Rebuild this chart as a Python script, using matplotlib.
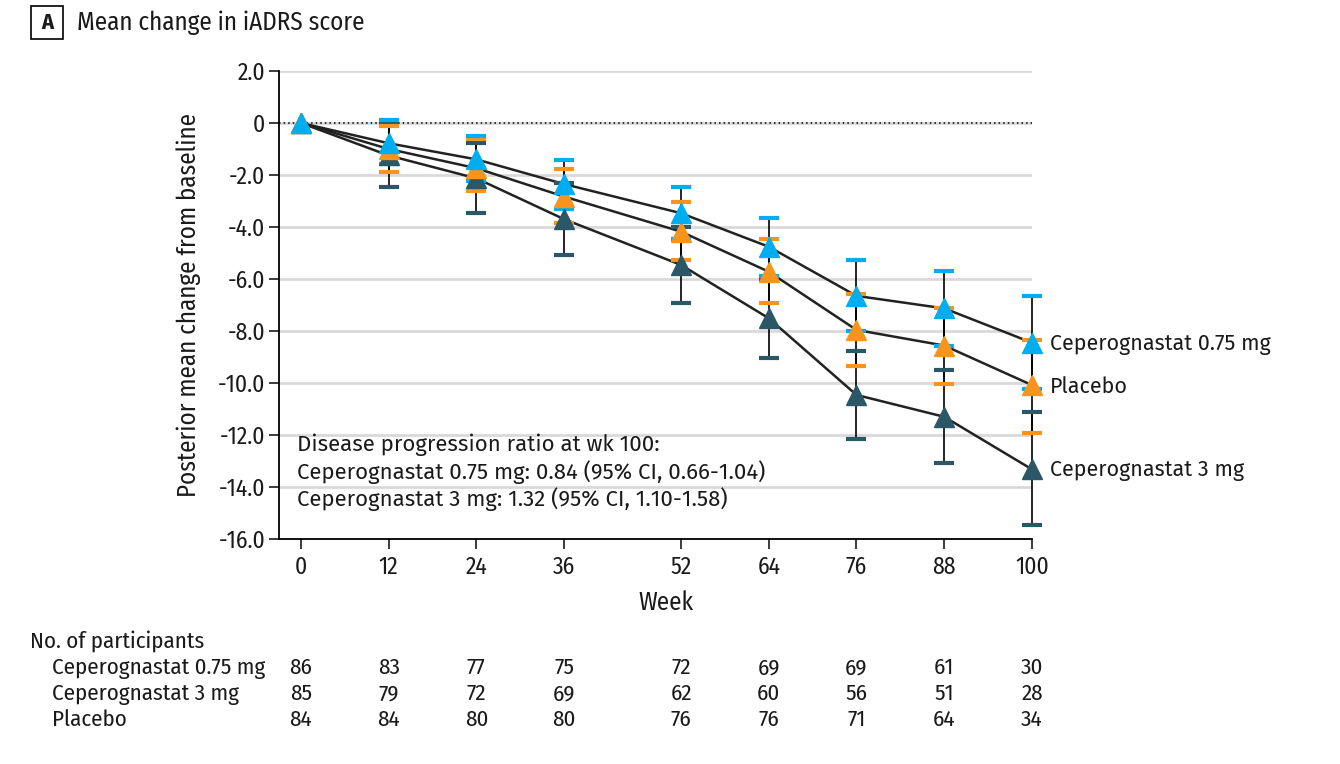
import numpy as np
import matplotlib
matplotlib.use('Agg')
import matplotlib.pyplot as plt
from matplotlib.patches import Rectangle

plt.rcParams['font.family'] = ['Fira Sans Condensed', 'DejaVu Sans']
LABEL_FONT = ['Fira Sans', 'Fira Sans Condensed', 'DejaVu Sans']

weeks = [0, 12, 24, 36, 52, 64, 76, 88, 100]

# posterior mean change and 95% interval
low_mean = [0, -0.78, -1.40, -2.35, -3.47, -4.76, -6.65, -7.13, -8.45]
low_lo = [0, -1.56, -2.22, -3.30, -4.47, -5.88, -8.00, -8.58, -10.22]
low_hi = [0, 0.10, -0.49, -1.42, -2.46, -3.64, -5.27, -5.68, -6.64]

pbo_mean = [0, -1.00, -1.74, -2.83, -4.18, -5.72, -7.96, -8.56, -10.08]
pbo_lo = [0, -1.87, -2.60, -3.85, -5.28, -6.92, -9.33, -10.03, -11.91]
pbo_hi = [0, -0.13, -0.63, -1.76, -3.03, -4.47, -6.58, -7.10, -8.35]

high_mean = [0, -1.25, -2.13, -3.70, -5.46, -7.51, -10.46, -11.30, -13.32]
high_lo = [0, -2.45, -3.47, -5.06, -6.93, -9.03, -12.17, -13.06, -15.46]
high_hi = [0, -0.05, -0.78, -2.29, -4.00, -5.99, -8.78, -9.50, -11.10]

group_names = ['Ceperognastat 0.75 mg', 'Ceperognastat 3 mg', 'Placebo']
n_low = [86, 83, 77, 75, 72, 69, 69, 61, 30]
n_high = [85, 79, 72, 69, 62, 60, 56, 51, 28]
n_pbo = [84, 84, 80, 80, 76, 76, 71, 64, 34]

c_low = '#00aeef'
c_pbo = '#f7941d'
c_high = '#2c5766'
c_text = '#1a1a1a'

fig = plt.figure(figsize=(13.4, 7.64), dpi=100)
ax = fig.add_axes([0.2082, 0.2945, 0.5619, 0.6126])

ax.axhline(0, color='black', lw=1.1, ls=(0, (1, 2)), zorder=1)

series = [
    (high_mean, high_lo, high_hi, c_high),
    (pbo_mean, pbo_lo, pbo_hi, c_pbo),
    (low_mean, low_lo, low_hi, c_low),
]

# connecting lines
for mean, lo, hi, col in series:
    ax.plot(weeks, mean, color='#222222', lw=1.8, zorder=2, clip_on=False)

# error bars: black whisker, coloured cap
for mean, lo, hi, col in series:
    m = np.array(mean[1:])
    yerr = [m - np.array(lo[1:]), np.array(hi[1:]) - m]
    eb = ax.errorbar(weeks[1:], m, yerr=yerr, fmt='none', ecolor='black',
                     elinewidth=1.2, capsize=7.2, capthick=3, zorder=3)
    for cap in eb[1]:
        cap.set_markeredgecolor(col)
        cap.set_markerfacecolor(col)
        cap.set_zorder(3.5)
        cap.set_clip_on(False)
    for bar in eb[2]:
        bar.set_clip_on(False)

for mean, lo, hi, col in series:
    ax.plot(weeks, mean, ls='none', marker='^', ms=14, color=col,
            mec=col, zorder=4, clip_on=False)

ax.set_xlim(-3, 100)
ax.set_ylim(-16, 2)
ax.set_xticks(weeks)
yt = np.arange(-16, 2.1, 2)
ax.set_yticks(yt)
ax.set_yticklabels(['%.1f' % v if v != 0 else '0' for v in yt])
ax.grid(axis='y', color='#d9d9d9', lw=2)
ax.set_axisbelow(True)
for s in ['top', 'right']:
    ax.spines[s].set_visible(False)
ax.spines['left'].set_linewidth(1.3)
ax.spines['bottom'].set_linewidth(1.3)
ax.tick_params(axis='both', length=7, width=1.2, labelsize=17, colors=c_text)
ax.tick_params(axis='x', pad=5)
ax.tick_params(axis='y', pad=3)
ax.set_xlabel('Week', fontsize=18, color=c_text, labelpad=8)
ax.xaxis.label.set_x(53 / 103)
ax.set_ylabel('Posterior mean change from baseline', fontsize=18,
              color=c_text, labelpad=12)

# end-of-line labels
for lab, mean in [('Ceperognastat 0.75 mg', low_mean), ('Placebo', pbo_mean),
                  ('Ceperognastat 3 mg', high_mean)]:
    ax.annotate(lab, (100, mean[-1]), xytext=(13, -1), textcoords='offset points',
                va='center', ha='left', fontsize=15.5, color=c_text,
                family=LABEL_FONT, annotation_clip=False)

ax.text(-0.5, -11.95,
        'Disease progression ratio at wk 100:\n'
        'Ceperognastat 0.75 mg: 0.84 (95% CI, 0.66-1.04)\n'
        'Ceperognastat 3 mg: 1.32 (95% CI, 1.10-1.58)',
        va='top', ha='left', fontsize=16, color=c_text, linespacing=1.2,
        family=LABEL_FONT)

# panel title
fig.patches.append(Rectangle((31 / 1340, 1 - 39 / 764), 32 / 1340, 33 / 764,
                             transform=fig.transFigure, fill=False,
                             ec='black', lw=1.2))
fig.text(47 / 1340, 1 - 23 / 764, 'A', ha='center', va='center',
         fontsize=16, fontweight='bold', color=c_text)
fig.text(77 / 1340, 1 - 23 / 764, 'Mean change in iADRS score', ha='left',
         va='center', fontsize=18, color=c_text)

# number of participants table
trans = ax.get_xaxis_transform()
fig.text(30 / 1340, 1 - 641 / 764, 'No. of participants', ha='left',
         va='center', fontsize=16.5, color=c_text)
rows_y = [668, 694, 720]
for name, counts, yp in zip(group_names, [n_low, n_high, n_pbo], rows_y):
    fig.text(52 / 1340, 1 - yp / 764, name, ha='left', va='center',
             fontsize=16.5, color=c_text)
    yax = (1 - yp / 764 - 0.2945) / 0.6126
    for w, n in zip(weeks, counts):
        ax.text(w, yax, str(n), transform=trans, ha='center', va='center',
                fontsize=16.5, color=c_text, clip_on=False)

fig.savefig('out.png', dpi=100)
